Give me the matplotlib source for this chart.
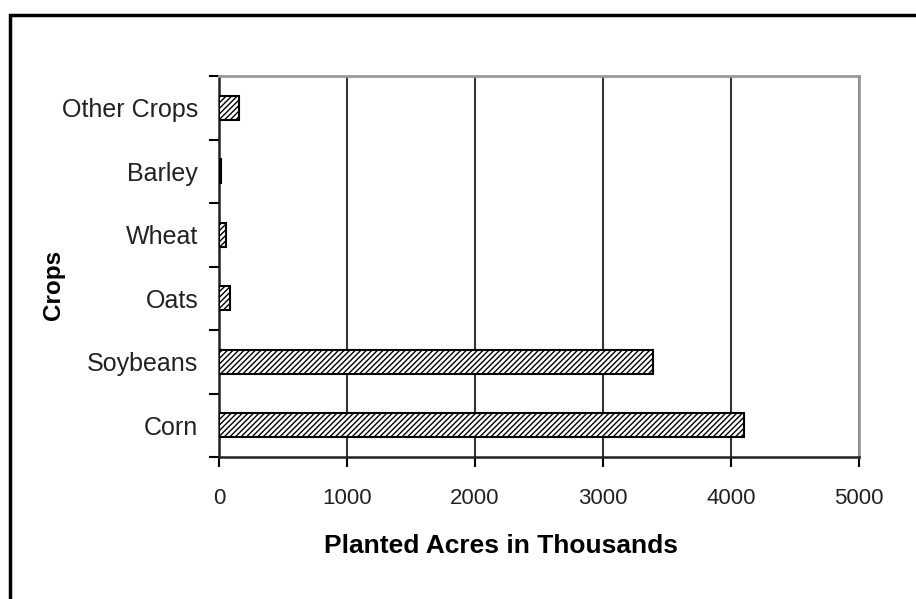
import matplotlib.pyplot as plt
from matplotlib.patches import Rectangle

# Planted acres (thousands) by crop
crops = ['Corn', 'Soybeans', 'Oats', 'Wheat', 'Barley', 'Other Crops']
acres = [4100, 3390, 85, 55, 15, 155]

plt.rcParams['font.family'] = ['Liberation Sans', 'DejaVu Sans']
plt.rcParams['hatch.linewidth'] = 1.0

fig = plt.figure(figsize=(9.16, 5.99), dpi=100)
ax = fig.add_axes([219 / 916, 1 - 457 / 599, 640 / 916, 381 / 599])

# outer chart frame (cropped on the right and bottom)
fig.patches.append(Rectangle((9.5 / 916, -0.1), 1.2, 1 - 14.5 / 599 + 0.1,
                             transform=fig.transFigure, fill=False,
                             edgecolor='black', linewidth=2.5))

ax.barh(range(len(crops)), acres, height=0.38, color='white', edgecolor='black',
        hatch='//////', linewidth=1.5, zorder=3)

ax.set_xlim(0, 5000)
ax.set_ylim(-0.5, len(crops) - 0.5)
ax.set_xticks([0, 1000, 2000, 3000, 4000, 5000])
ax.set_yticks(range(len(crops)))
ax.set_yticklabels(crops)
ax.set_yticks([i - 0.5 for i in range(len(crops) + 1)], minor=True)
ax.tick_params(axis='y', which='major', length=0, pad=15, labelsize=18, colors='#222222')
ax.tick_params(axis='y', which='minor', length=7, width=1.5, direction='out')
ax.tick_params(axis='x', length=7, width=1.5, direction='out', pad=15, labelsize=16,
               labelcolor='#222222')

ax.grid(axis='x', color='#333333', linewidth=1.5, zorder=1)
for s in ['left', 'bottom']:
    ax.spines[s].set_linewidth(1.8)
    ax.spines[s].set_color('#222222')
for s in ['top', 'right']:
    ax.spines[s].set_linewidth(2)
    ax.spines[s].set_color('#999999')

ax.set_xlabel('Planted Acres in Thousands', fontsize=19, fontweight='bold')
ax.set_ylabel('Crops', fontsize=17.5, fontweight='bold')
ax.xaxis.set_label_coords(0.4406, -0.202)
ax.yaxis.set_label_coords(-0.2406, 0.4514)

fig.savefig('out.png', dpi=100)
